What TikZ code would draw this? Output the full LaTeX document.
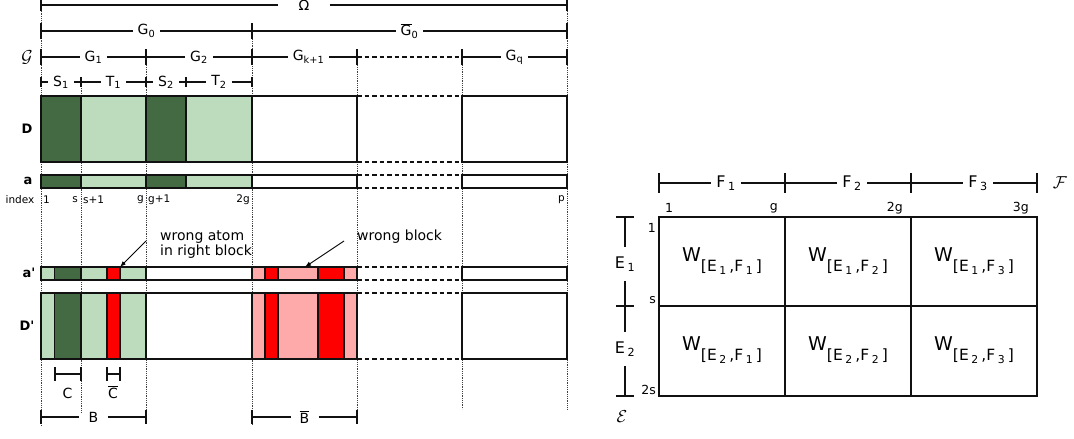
\documentclass[tikz,border=0pt]{standalone}
\usepackage{fontspec}
\setmainfont{DejaVu Sans}
\usetikzlibrary{arrows.meta,calc}
\definecolor{cAtom}{HTML}{436A42}
\definecolor{cBlock}{HTML}{BDDBBD}
\definecolor{cWrong}{HTML}{FF0000}
\definecolor{cBad}{HTML}{FFAAAA}
\definecolor{cInk}{HTML}{111111}
\newcommand{\fsz}[1]{\fontsize{#1}{#1}\selectfont}
\newcommand{\sbs}[1]{\textsubscript{#1}}
\newcommand{\ovl}[1]{$\overline{\mbox{#1}}$}
\newcommand{\wlab}[2]{{\fsz{19}W}\raisebox{-10pt}{\fsz{15.5}[E\,\sbs{#1}\,,F\,\sbs{#2}\,]}}
% dimension segment: name, left x, right x, y, half tick, label
\newcommand{\dimseg}[7][]{%
  \coordinate (#2-l) at (#3,#5);
  \coordinate (#2-r) at (#4,#5);
  \node[dimlab,#1] (#2) at ($(#2-l)!0.5!(#2-r)$) {#7};
  \draw[dimln] (#2-l) -- (#2) -- (#2-r);
  \draw[dimln] ([yshift=#6]#2-l) -- ([yshift=-#6]#2-l)
               ([yshift=#6]#2-r) -- ([yshift=-#6]#2-r);
}
\tikzset{
  dimln/.style   = {draw=cInk, line width=1.6pt},
  dimlab/.style  = {font=\fsz{14}, inner xsep=5pt, inner ysep=1pt},
  biglab/.style  = {dimlab, font=\fsz{16}},
  idx/.style     = {font=\fsz{10.5}, inner sep=1pt},
  idxr/.style    = {font=\fsz{12.5}, inner sep=1pt},
  guide/.style   = {draw=black!75, densely dotted, line width=0.8pt},
  cell/.style    = {draw=cInk, line width=1.5pt},
  gap/.style     = {draw=cInk, dash pattern=on 4.5pt off 3pt, line width=1.5pt},
  rowlab/.style  = {font=\fsz{13}\bfseries},
  grid/.style    = {draw=cInk, line width=2pt},
  note/.style    = {font=\fontsize{14}{15.5}\selectfont, align=left, inner sep=0pt},
  pointer/.style = {-{Latex[length=6pt,width=4.5pt]}, line width=0.9pt},
}
\begin{document}
\begin{tikzpicture}[x=1pt,y=-1pt]
  \useasboundingbox (0,0) rectangle (1074,439);
  % guides
  \foreach \gx/\ga/\gb in {41/0/425, 81/77/412, 146/49/425, 252/23/425,
                           357/49/425, 462/49/409, 567/0/409}
    \draw[guide] (\gx,\ga) -- (\gx,\gb);
  % partition of the index set
  \dimseg[inner xsep=20pt]{om}{41}{567}{5}{6pt}{Ω}
  \dimseg{g0}{41}{252}{31}{8pt}{G\sbs{0}}
  \dimseg{g0b}{252}{567}{31}{8pt}{\ovl{G}\sbs{0}}
  \node[font=\fsz{17}] (cg) at (27,57) {$\mathcal{G}$};
  \dimseg{g1}{41}{146}{57}{8pt}{G\sbs{1}}
  \dimseg{g2}{146}{252}{57}{8pt}{G\sbs{2}}
  \dimseg[xshift=4pt]{gk}{252}{357}{57}{8pt}{G\sbs{k+1}}
  \dimseg{gq}{462}{567}{57}{8pt}{G\sbs{q}}
  \draw[gap] (gk-r) -- (gq-l);
  \dimseg{s1}{41}{81}{82}{5pt}{S\sbs{1}}
  \dimseg{t1}{81}{146}{82}{5pt}{T\sbs{1}}
  \dimseg{s2}{146}{186}{82}{5pt}{S\sbs{2}}
  \dimseg{t2}{186}{252}{82}{5pt}{T\sbs{2}}
  % rows D and a
  \foreach \ya/\yb in {96/162, 175/188} {
    \foreach \xa/\xb/\fillc in {41/81/cAtom, 81/146/cBlock, 146/186/cAtom,
                                186/252/cBlock, 252/357/white, 462/567/white}
      \draw[cell, fill=\fillc] (\xa,\ya) rectangle (\xb,\yb);
    \draw[gap] (357,\ya) -- (462,\ya) (357,\yb) -- (462,\yb);
  }
  % rows a' and D'
  \foreach \ya/\yb in {267/280, 293/359} {
    \foreach \xa/\xb/\fillc in {41/54.7/cBlock, 54.7/81/cAtom, 81/107/cBlock,
                                107/120/cWrong, 120/146/cBlock, 146/252/white,
                                252/265/cBad, 265/278/cWrong, 278/318/cBad,
                                318/344/cWrong, 344/357/cBad, 462/567/white}
      \draw[cell, fill=\fillc] (\xa,\ya) rectangle (\xb,\yb);
    \draw[gap] (357,\ya) -- (462,\ya) (357,\yb) -- (462,\yb);
  }
  \node[rowlab] (lD) at (27,129) {D};
  \node[rowlab] (la) at (28,181) {a};
  \node[rowlab] (la2) at (29,273) {a\textquotesingle};
  \node[rowlab] (lD2) at (27,326) {D\textquotesingle};
  % index
  \node[idx] (lidx) at (20,200) {index};
  \node[idx, anchor=west] (i1) at (42,200) {1};
  \node[idx, anchor=east] (is) at (79,200) {s};
  \node[idx, anchor=west] (is1) at (82,200) {s+1};
  \node[idx, anchor=east] (ig) at (145,200) {g};
  \node[idx, anchor=west] (ig1) at (147,200) {g+1};
  \node[idx, anchor=east] (i2g) at (251,200) {2g};
  \node[idx, anchor=east] (ip) at (566,200) {p};
  % notes
  \node[note, anchor=west] (nA) at (160,244.5) {wrong atom\\in right block};
  \coordinate (nA-tip) at (120,267);
  \draw[pointer] ([xshift=-14pt,yshift=3.5pt]nA.west) -- (nA-tip);
  \node[note, anchor=west] (nB) at (357,237) {wrong block};
  \coordinate (nB-tip) at (305,267);
  \draw[pointer] ([xshift=-13pt,yshift=-4pt]nB.west) -- (nB-tip);
  % C and B brackets
  \foreach \nm/\xa/\xb in {c/54.7/81, cb/107/120} {
    \coordinate (\nm-l) at (\xa,374);
    \coordinate (\nm-r) at (\xb,374);
    \draw[dimln] (\nm-l) -- (\nm-r)
      ([yshift=7pt]\nm-l) -- ([yshift=-7pt]\nm-l)
      ([yshift=7pt]\nm-r) -- ([yshift=-7pt]\nm-r);
  }
  \node[dimlab] (c) at (67.5,393) {C};
  \node[dimlab] (cb) at (113,392) {\ovl{C}};
  \dimseg[inner xsep=9pt]{bb}{41}{146}{417}{7pt}{B}
  \dimseg[inner xsep=9pt]{bbar}{252}{357}{417}{7pt}{\ovl{B}}
  % matrix W
  \dimseg[biglab, xshift=4pt]{f1}{659}{785}{183}{10pt}{F\,\sbs{1}}
  \dimseg[biglab, xshift=4pt]{f2}{785}{911}{183}{10pt}{F\,\sbs{2}}
  \dimseg[biglab, xshift=4pt]{f3}{911}{1037}{183}{10pt}{F\,\sbs{3}}
  \node[font=\fsz{17}] (cf) at (1060,183) {$\mathcal{F}$};
  \node[idxr, anchor=west] (col1) at (664,208) {1};
  \node[idxr, anchor=east] (colg) at (779,208) {g};
  \node[idxr, anchor=east] (col2g) at (904,208) {2g};
  \node[idxr, anchor=east] (col3g) at (1030,208) {3g};
  \draw[grid] (659,217) rectangle (1037,396)
    (785,217) -- (785,396) (911,217) -- (911,396) (659,306) -- (1037,306);
  \foreach \cc/\xa in {1/659, 2/785, 3/911}
    \foreach \rr/\ya in {1/217, 2/306}
      \node (w\rr\cc) at (\xa+63,\ya+44.5) {\wlab{\rr}{\cc}};
  \coordinate (e-t) at (625,217);
  \coordinate (e-m) at (625,306);
  \coordinate (e-b) at (625,396);
  \node[biglab, inner ysep=10pt] (e1) at (625,264) {E\,\sbs{1}};
  \node[biglab, inner ysep=10pt] (e2) at (625,349) {E\,\sbs{2}};
  \draw[grid] (e-t) -- (e1.north) (e1.south) -- (e-m) -- (e2.north)
    (e2.south) -- (e-b);
  \draw[grid] ([xshift=-9pt]e-t) -- ([xshift=9pt]e-t)
    ([xshift=-9pt]e-m) -- ([xshift=9pt]e-m)
    ([xshift=-9pt]e-b) -- ([xshift=9pt]e-b);
  \node[idxr, anchor=east] (row1) at (657,228) {1};
  \node[idxr, anchor=east] (rows) at (657,300) {s};
  \node[idxr, anchor=east] (row2s) at (657,390) {2s};
  \node[font=\fsz{17}] (ce) at (622,417) {$\mathcal{E}$};
\end{tikzpicture}
\end{document}
